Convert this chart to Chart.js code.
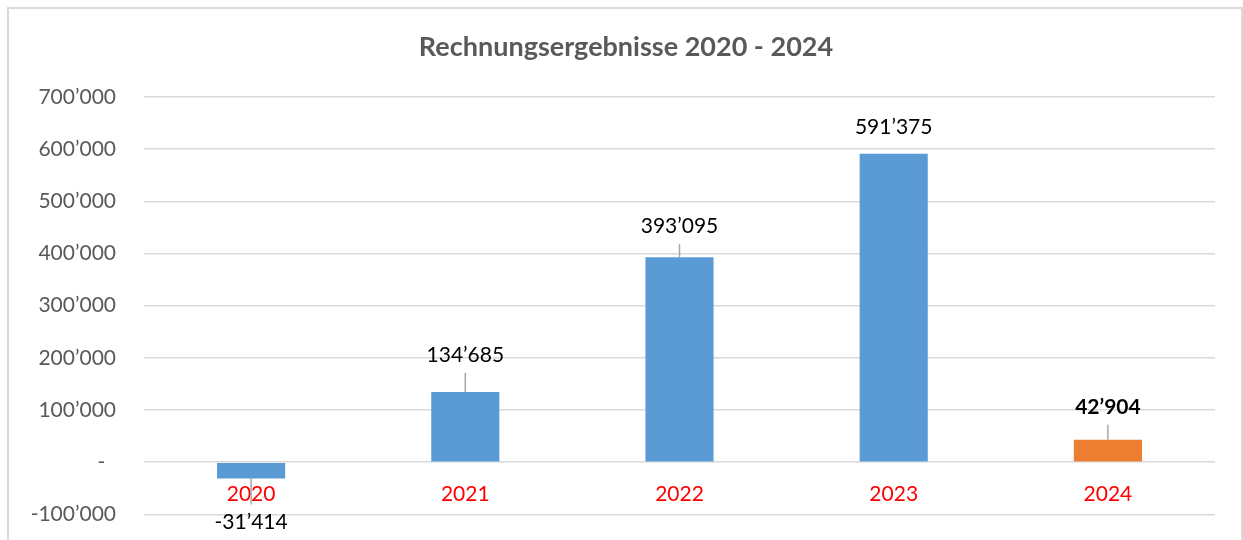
<!DOCTYPE html>
<html><head><meta charset="utf-8">
<script src="https://cdn.jsdelivr.net/npm/chart.js@4"></script>
<style>html,body{margin:0;padding:0;background:#fff;}#wrap{width:1243px;height:540px;overflow:hidden;}</style>
</head><body><div id="wrap"><canvas id="c" width="1243" height="555"></canvas></div>
<script>
const chartTitle = 'Rechnungsergebnisse 2020 - 2024';
const categories = ['2020', '2021', '2022', '2023', '2024'];
const values = [-31414, 134685, 393095, 591375, 42904];
const yTickValues = [-100000, 0, 100000, 200000, 300000, 400000, 500000, 600000, 700000];
const barColors = ['#5B9BD5', '#5B9BD5', '#5B9BD5', '#5B9BD5', '#ED7D31'];
const boldLabels = [false, false, false, false, true];

const FONT = 'Lato, "Open Sans", sans-serif';

function fmt(v) {
  if (v === 0) return '-  ';
  const s = Math.abs(Math.round(v)).toString().replace(/\B(?=(\d{3})+(?!\d))/g, '\u2019');
  return (v < 0 ? '-' : '') + s;
}

const frame = {
  id: 'frame',
  beforeDraw(chart) {
    const ctx = chart.ctx;
    ctx.save();
    ctx.fillStyle = '#fff';
    ctx.fillRect(0, 0, chart.width, chart.height);
    ctx.strokeStyle = '#D9D9D9';
    ctx.lineWidth = 2;
    ctx.strokeRect(8, 8, 1234, 600);
    ctx.restore();
  },
  afterDraw(chart, args, opts) {
    const ctx = chart.ctx;
    ctx.save();
    ctx.fillStyle = '#595959';
    ctx.font = 'bold 27px ' + FONT;
    ctx.textAlign = 'center';
    ctx.textBaseline = 'middle';
    ctx.fillText(chartTitle, opts.titleX, opts.titleY);
    ctx.restore();
  }
};

const dataLabels = {
  id: 'dataLabels',
  afterDatasetsDraw(chart, args, opts) {
    const ctx = chart.ctx;
    const meta = chart.getDatasetMeta(0);
    ctx.save();
    meta.data.forEach((el, i) => {
      const v = values[i];
      const gap = opts.gaps[i];
      const end = el.y;
      const dir = v < 0 ? 1 : -1;
      const ly = end + dir * gap;
      if (gap > 28) {
        ctx.strokeStyle = '#A6A6A6';
        ctx.lineWidth = 1.5;
        ctx.beginPath();
        ctx.moveTo(el.x, end);
        ctx.lineTo(el.x, ly - dir * 18);
        ctx.stroke();
      }
      ctx.fillStyle = '#000';
      ctx.font = (boldLabels[i] ? 'bold ' : '') + '21px ' + FONT;
      ctx.textAlign = 'center';
      ctx.textBaseline = 'middle';
      ctx.fillText(fmt(v), el.x, ly);
    });
    ctx.restore();
  }
};

new Chart(document.getElementById('c'), {
  type: 'bar',
  data: {
    labels: categories,
    datasets: [{
      data: values,
      backgroundColor: barColors,
      borderWidth: 0,
      barPercentage: 0.318,
      categoryPercentage: 1
    }]
  },
  options: {
    responsive: false,
    devicePixelRatio: 1,
    animation: false,
    layout: { padding: { left: 0, right: 28, top: 97, bottom: 11 } },
    plugins: {
      legend: { display: false },
      tooltip: { enabled: false },
      title: { display: false },
      frame: { titleX: 626, titleY: 47 },
      dataLabels: { gaps: [44, 37, 31, 26, 33] }
    },
    scales: {
      y: {
        min: -100000,
        max: 700000,
        afterBuildTicks(s) { s.ticks = yTickValues.map(v => ({ value: v })); },
        afterFit(s) { s.width = 144; },
        border: { display: false },
        grid: { color: '#D9D9D9', lineWidth: 1.5, drawTicks: false },
        ticks: {
          padding: 28,
          color: '#595959',
          font: { family: FONT, size: 21 },
          callback: v => fmt(v)
        }
      },
      x: {
        position: { y: 0 },
        afterFit(s) { s.height = 0; },
        border: { display: false },
        grid: { display: false, drawTicks: false },
        ticks: {
          padding: 19,
          color: '#FF0000',
          font: { family: FONT, size: 21 }
        }
      }
    }
  },
  plugins: [frame, dataLabels]
});
</script>
</body></html>
